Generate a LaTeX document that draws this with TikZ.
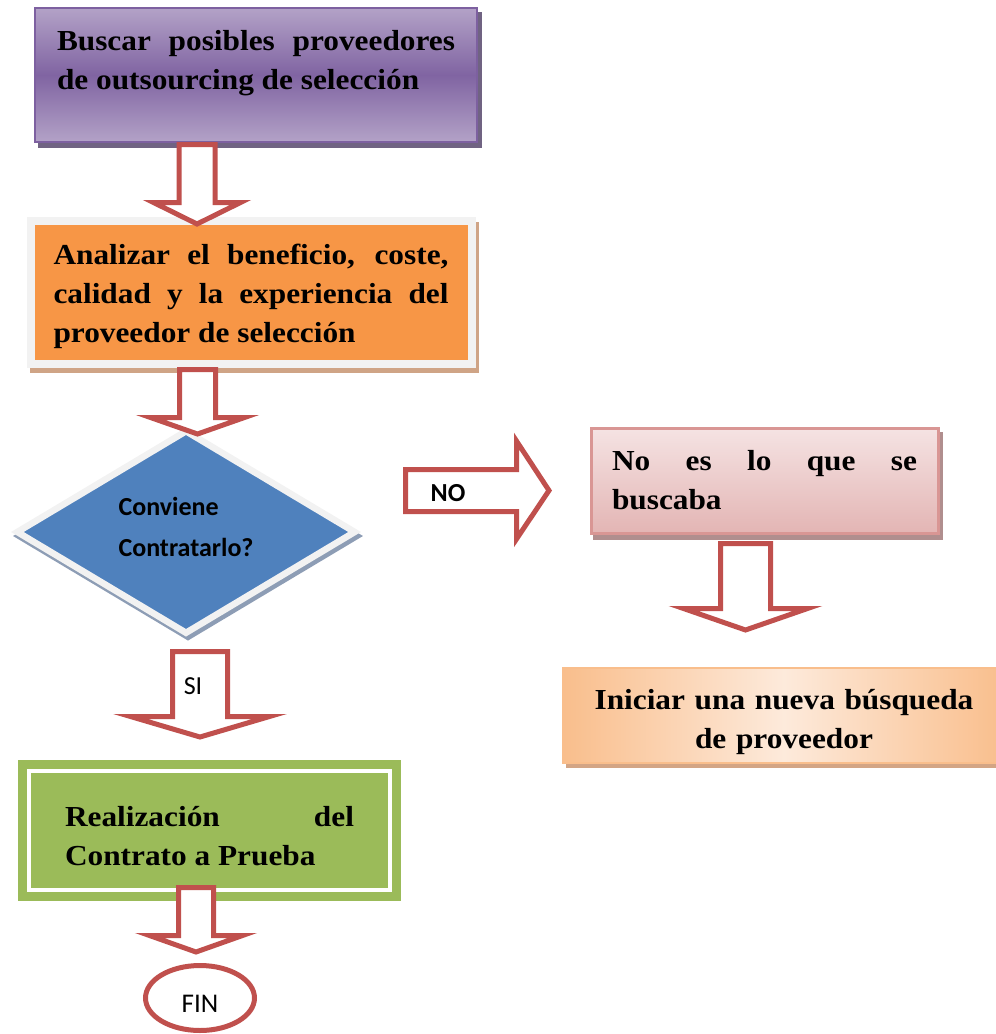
\documentclass[tikz,border=0pt]{standalone}
\usepackage{fontspec}
\setmainfont{Liberation Serif}[FakeStretch=1.08]
\newfontfamily\calibri{Carlito}
\usetikzlibrary{shapes.geometric,shadows}

\definecolor{purpleL}{HTML}{B3A2C7}
\definecolor{purpleD}{HTML}{8064A2}
\definecolor{purpleB}{HTML}{7D60A0}
\definecolor{purpleS}{HTML}{706382}
\definecolor{orangeF}{HTML}{F79646}
\definecolor{frameG}{HTML}{F2F2F2}
\definecolor{orangeS}{HTML}{CFA486}
\definecolor{blueF}{HTML}{4F81BD}
\definecolor{blueS}{HTML}{8D9DB5}
\definecolor{pinkT}{HTML}{F5E3E3}
\definecolor{pinkB}{HTML}{E3B5B4}
\definecolor{pinkD}{HTML}{D99694}
\definecolor{pinkS}{HTML}{B08E8E}
\definecolor{peachE}{HTML}{F9BE8C}
\definecolor{peachM}{HTML}{FDEADB}
\definecolor{peachS}{HTML}{D3A585}
\definecolor{greenF}{HTML}{9BBB59}
\definecolor{redA}{HTML}{C0504D}

\newcommand{\flowfont}{\bfseries\fontsize{29}{39}\selectfont}
% strut that pushes a text block down inside its box
\newcommand{\topstrut}[1]{\rule{0pt}{#1pt}}

\tikzset{
  flowbox/.style={rectangle, inner ysep=0pt, font=\flowfont, align=justify},
  blockarrow/.style={draw=redA, fill=white, line width=5pt},
  sansbold/.style={font=\calibri\bfseries\fontsize{26}{41}\selectfont},
  sans/.style={font=\calibri\fontsize{#1}{32}\selectfont}
}

% hollow block arrow pointing down: x, top, head base, tip, shaft half, head half
\newcommand{\downblock}[6]{%
  \draw[blockarrow] (#1-#5,#2) -- (#1+#5,#2) -- (#1+#5,#3) -- (#1+#6,#3)
    -- (#1,#4) -- (#1-#6,#3) -- (#1-#5,#3) -- cycle;}

\begin{document}
\begin{tikzpicture}[x=1pt, y=-1pt]
  \clip (0,0) rectangle (996,1034);

  \node[flowbox, text width=398pt, inner xsep=22pt, minimum height=134pt,
        top color=purpleL, bottom color=purpleL, middle color=purpleD,
        draw=purpleB, line width=2.5pt,
        general shadow={fill=purpleS, draw=purpleS, line width=2.5pt, shadow xshift=4pt, shadow yshift=-5pt}]
        (buscar) at (256,75) {\topstrut{29}Buscar posibles proveedores\linebreak de outsourcing de selección\\\mbox{}};

  \node[flowbox, text width=395pt, inner xsep=23pt, minimum height=143pt,
        fill=orangeF, draw=frameG, line width=8pt,
        general shadow={fill=orangeS, draw=orangeS, line width=8pt, shadow xshift=3pt, shadow yshift=-5pt}]
        (analizar) at (251,292.5) {\topstrut{28}Analizar el beneficio, coste,\linebreak calidad y la experiencia del\linebreak proveedor de selección};

  \node[diamond, minimum width=340pt, minimum height=192pt, inner sep=0pt,
        fill=blueF, draw=frameG, line width=6.5pt, sansbold, align=left,
        general shadow={fill=blueS, draw=blueS, line width=6.5pt, shadow xshift=2pt, shadow yshift=-4pt}]
        (conviene) at (186,532) {Conviene\\Contratarlo?\rule[-10pt]{0pt}{0pt}};

  \node[flowbox, text width=305pt, inner xsep=21pt, minimum height=105pt,
        top color=pinkT, bottom color=pinkB, draw=pinkD, line width=3pt,
        general shadow={fill=pinkS, draw=pinkS, line width=3pt, shadow xshift=3pt, shadow yshift=-5pt}]
        (nobusca) at (764.5,480.5) {No es lo que se\linebreak buscaba};

  \node[flowbox, align=center, text width=398pt, inner xsep=22pt, minimum height=95pt,
        left color=peachE, right color=peachE, middle color=peachM, draw=peachE, line width=2pt,
        general shadow={fill=peachS, draw=peachS, line width=2pt, shadow xshift=4pt, shadow yshift=-4pt}]
        (iniciar) at (784,715.5) {\topstrut{33}Iniciar una nueva búsqueda\\de proveedor};

  \node[flowbox, text width=289pt, inner xsep=36pt, minimum height=119pt,
        fill=greenF, draw=greenF, double=white, double distance=4pt, line width=9pt]
        (realiza) at (209.5,830.5) {\topstrut{32}Realización del\linebreak Contrato a Prueba};

  \node[ellipse, draw=redA, line width=5pt, minimum width=109pt, minimum height=65pt,
        inner sep=0pt, sans=27] (fin) at (200,998) {\topstrut{28}FIN};

  % block arrows
  \downblock{197}{144.5}{202.5}{224}{18}{43.5}
  \downblock{197.5}{369.5}{417.5}{434}{18}{47}
  \downblock{200}{651.5}{716.5}{737}{27.5}{69.5}
  \downblock{196}{887.5}{935.5}{952}{17.5}{46.5}
  \downblock{745.5}{543.5}{608.5}{630}{25}{62}
  \draw[blockarrow] (405.5,469.5) -- (516.5,469.5) -- (516.5,441) -- (549,490.5)
    -- (516.5,539) -- (516.5,511.5) -- (405.5,511.5) -- cycle;

  \node[sansbold] (no) at (448,493) {NO};
  \node[sans=26] (si) at (193,686) {SI};
\end{tikzpicture}
\end{document}
